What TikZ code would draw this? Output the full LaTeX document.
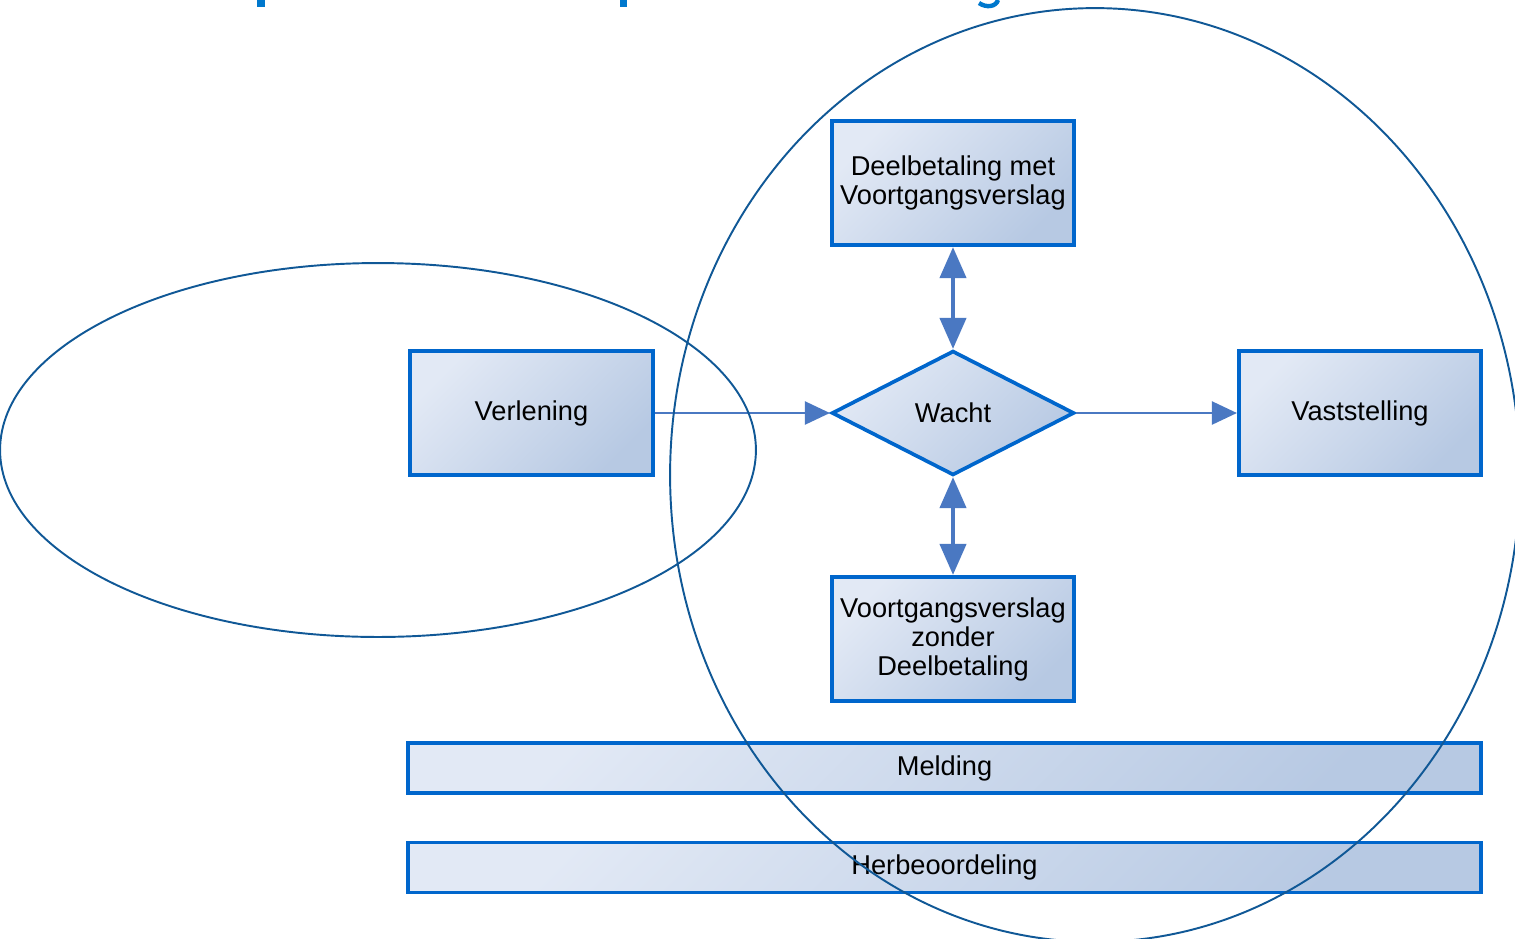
\documentclass[tikz,border=0pt]{standalone}
\usepackage{fontspec}
\setmainfont{Liberation Sans}
\usetikzlibrary{shapes.geometric, arrows.meta}
\definecolor{boxline}{RGB}{0,102,204}
\definecolor{boxlight}{RGB}{226,233,245}
\definecolor{boxdark}{RGB}{183,201,227}
\definecolor{arrowblue}{RGB}{74,120,194}
\definecolor{ringblue}{RGB}{16,88,150}
\definecolor{titleblue}{RGB}{0,120,205}

\tikzset{
  procbox/.style={draw=boxline, line width=2.1pt, top color=boxlight, bottom color=boxdark, shading angle=45,
    minimum width=4.85cm, minimum height=2.49cm, inner sep=2pt, align=center, font=\fontsize{15.5}{16.5}\selectfont},
  barbox/.style={procbox, minimum width=21.47cm, minimum height=1cm},
  waitdiamond/.style={procbox, diamond, minimum width=4.85cm, minimum height=2.49cm, inner sep=0pt},
  flowarrow/.style={draw=arrowblue, line width=1.3pt, -{Triangle[width=0.46cm, length=0.5cm]}},
  duoarrow/.style={draw=arrowblue, line width=2.4pt, {Triangle[width=0.52cm, length=0.62cm]}-{Triangle[width=0.52cm, length=0.62cm]}},
  ring/.style={draw=ringblue, line width=1.1pt}
}

\begin{document}
\begin{tikzpicture}[x=0.02cm, y=-0.02cm]
  \useasboundingbox (0,0) rectangle (1515,938);

  % remains of the title
  \fill[titleblue] (257,0) rectangle (265,7);
  \fill[titleblue] (620,0) rectangle (627,7);
  \draw[titleblue, line width=2.5pt] (998,0) .. controls (996,7) and (986,8) .. (979,3);

  % process boxes
  \node[procbox] (deel) at (953,183) {Deelbetaling met\\Voortgangsverslag};
  \node[procbox] (verl) at (531.5,413) {Verlening};
  \node[waitdiamond] (wacht) at (953,413) {Wacht};
  \node[procbox] (vast) at (1360,413) {Vaststelling};
  \node[procbox] (zonder) at (953,639) {Voortgangsverslag\\zonder\\Deelbetaling};
  \node[barbox] (meld) at (944.5,768) {Melding};
  \node[barbox] (herb) at (944.5,867.5) {Herbeoordeling};

  % connectors
  \draw[flowarrow] (verl) -- (wacht);
  \draw[flowarrow] (wacht) -- (vast);
  \draw[duoarrow] (deel) -- (wacht);
  \draw[duoarrow] (wacht) -- (zonder);

  % phases
  \draw[ring] (378,450) ellipse [x radius=7.56cm, y radius=3.74cm];
  \draw[ring] (1095,475) ellipse [x radius=8.5cm, y radius=9.34cm];
\end{tikzpicture}
\end{document}
